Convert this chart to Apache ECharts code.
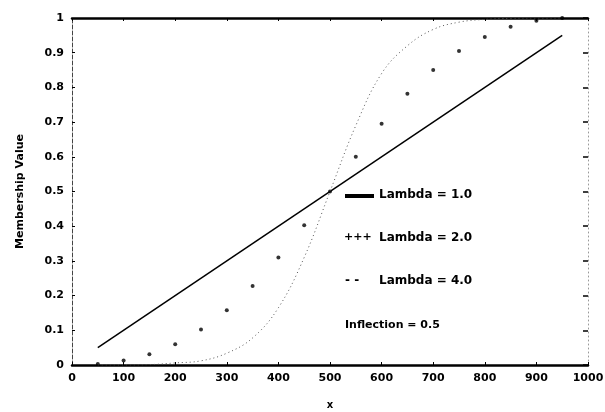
<!DOCTYPE html>
<html><head><meta charset="utf-8">
<script src="https://cdn.jsdelivr.net/npm/echarts@6/dist/echarts.min.js"></script>
<style>html,body{margin:0;padding:0;background:#fff}#c{width:605px;height:412px}</style>
</head><body><div id="c"></div>
<script>
var xTicks = [0,100,200,300,400,500,600,700,800,900,1000];
var yTicks = [0,0.1,0.2,0.3,0.4,0.5,0.6,0.7,0.8,0.9,1];
var lambda1X = [50, 950];
var lambda1Y = [0.05, 0.95];
var lambda2X = [50,100,150,200,250,300,350,400,450,500,550,600,650,700,750,800,850,900,950];
var lambda2Y = [0.003,0.013,0.031,0.06,0.102,0.158,0.228,0.31,0.403,0.5,0.6,0.695,0.782,0.85,0.905,0.945,0.975,0.992,1.0];
var lambda4X = [50,100,150,200,250,300,350,400,450,500,550,600,650,700,750,800,850,900,950];
var lambda4Y = [0.0,0.0,0.001,0.006,0.012,0.034,0.078,0.165,0.31,0.5,0.69,0.84,0.92,0.967,0.988,0.996,0.999,1.0,1.0];
var legendLabels = ['Lambda = 1.0','Lambda = 2.0','Lambda = 4.0'];
var noteLabel = 'Inflection = 0.5';

function pairs(xs, ys){ return xs.map(function(x,i){return [x, ys[i]];}); }
var F = '"DejaVu Sans", sans-serif';
var chart = echarts.init(document.getElementById('c'), null, {renderer:'canvas'});
chart.setOption({
  animation:false,
  backgroundColor:'#fff',
  grid:{left:72, right:17, top:18, bottom:47, containLabel:false, outerBoundsMode:'none'},
  xAxis:[{
    type:'value', min:0, max:1000, interval:100,
    name:'x', nameLocation:'middle', nameGap:35,
    nameTextStyle:{fontFamily:F, fontWeight:'bold', fontSize:10, color:'#000'},
    axisLine:{show:true, onZero:false, lineStyle:{color:'#000', width:2.5}},
    axisTick:{show:true, inside:true, length:3, lineStyle:{color:'#000'}},
    axisLabel:{fontFamily:F, fontWeight:'bold', fontSize:11, color:'#000', margin:8,
      formatter:function(v){ return String(Math.round(v)); }},
    splitLine:{show:false}
  },{
    type:'value', position:'top', min:0, max:1000, interval:100,
    axisLine:{show:true, onZero:false, lineStyle:{color:'#000', width:2.5}},
    axisTick:{show:true, inside:true, length:3, lineStyle:{color:'#000'}},
    axisLabel:{show:false}, splitLine:{show:false}
  }],
  yAxis:[{
    type:'value', min:0, max:1, interval:0.1,
    name:'Membership Value', nameLocation:'middle', nameGap:46, nameRotate:90,
    nameTextStyle:{fontFamily:F, fontWeight:'bold', fontSize:11, color:'#000'},
    axisLine:{show:true, onZero:false, lineStyle:{color:'#444', width:1, type:[4,2]}},
    axisTick:{show:true, inside:true, length:3, lineStyle:{color:'#000'}},
    axisLabel:{fontFamily:F, fontWeight:'bold', fontSize:11, color:'#000', margin:8,
      formatter:function(v){ if (Math.abs(v)<1e-9) return '0'; if (Math.abs(v-1)<1e-9) return '1'; return v.toFixed(1);} },
    splitLine:{show:false}
  },{
    type:'value', position:'right', min:0, max:1, interval:0.1,
    axisLine:{show:true, onZero:false, lineStyle:{color:'#999', width:1, type:[1,3]}},
    axisTick:{show:true, inside:true, length:5, lineStyle:{color:'#000', width:1.5}},
    axisLabel:{show:false}, splitLine:{show:false}
  }],
  series:[{
    name:legendLabels[0], type:'line', data:pairs(lambda1X, lambda1Y),
    symbol:'none', lineStyle:{color:'#000', width:1.5}
  },{
    name:legendLabels[1], type:'scatter', data:pairs(lambda2X, lambda2Y),
    symbol:'circle', symbolSize:4, itemStyle:{color:'#000'}
  },{
    name:legendLabels[2], type:'line', data:pairs(lambda4X, lambda4Y), smooth:0.4,
    symbol:'none', lineStyle:{color:'#555', width:1, type:[1,3]}
  }],
  graphic:[
    {type:'rect', shape:{x:345, y:194, width:29, height:4}, style:{fill:'#000'}},
    {type:'text', left:379, top:189, style:{text:legendLabels[0], font:'bold 12px '+F, fill:'#000'}},
    {type:'text', left:344, top:232, style:{text:'+++', font:'bold 11px '+F, fill:'#000'}},
    {type:'text', left:379, top:232, style:{text:legendLabels[1], font:'bold 12px '+F, fill:'#000'}},
    {type:'text', left:345, top:275, style:{text:'- -', font:'bold 12px '+F, fill:'#000'}},
    {type:'text', left:379, top:275, style:{text:legendLabels[2], font:'bold 12px '+F, fill:'#000'}},
    {type:'text', left:345, top:320, style:{text:noteLabel, font:'bold 11px '+F, fill:'#000'}}
  ]
});
</script></body></html>
